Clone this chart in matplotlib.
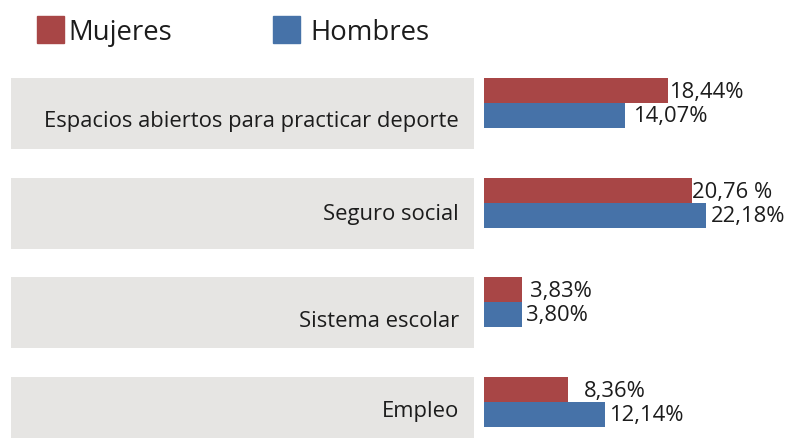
import matplotlib.pyplot as plt
from matplotlib.patches import Rectangle

categorias = ['Espacios abiertos para practicar deporte', 'Seguro social',
              'Sistema escolar', 'Empleo']
mujeres = [18.44, 20.76, 3.83, 8.36]
hombres = [14.07, 22.18, 3.80, 12.14]
etiq_mujeres = ['18,44%', '20,76 %', '3,83%', '8,36%']
etiq_hombres = ['14,07%', '22,18%', '3,80%', '12,14%']

ROJO = '#a84646'
AZUL = '#4672a8'
GRIS = '#e6e5e3'
TXT = '#1c1c1c'

plt.rcParams['font.family'] = ['Open Sans', 'DejaVu Sans']

W, H = 790, 438
fig = plt.figure(figsize=(W / 100, H / 100), dpi=100)

# y in "category" units: group i is centred at pixel 103 + 99.7*i from the top
paso = 99.7
ylim = ((H - 103) / paso, -103 / paso)

# left panel: grey boxes + category labels
axl = fig.add_axes([11 / W, 0, (474 - 11) / W, 1])
axl.set_xlim(0, 1)
axl.set_ylim(*ylim)
axl.axis('off')
lab_dy = [0.185, 0.115, 0.19, 0.09]
for i, cat in enumerate(categorias):
    axl.barh(i + 0.105, 1, height=0.71, left=0, color=GRIS, clip_on=True)
    axl.text(0.968, i + lab_dy[i], cat, ha='right', va='center', fontsize=15.8, color=TXT)

# right panel: bars
escala = 10.0  # px per percent
axr = fig.add_axes([484 / W, 0, (W - 484) / W, 1])
axr.set_xlim(0, (W - 484) / escala)
axr.set_ylim(*ylim)
axr.axis('off')
pos = list(range(len(categorias)))
h = 0.25
axr.barh([p - h / 2 for p in pos], mujeres, height=h, color=ROJO)
axr.barh([p + h / 2 for p in pos], hombres, height=h, color=AZUL)

pad_m = [1, 0, 8, 16]
pad_h = [8, 5, 4, 4]
for i in pos:
    axr.annotate(etiq_mujeres[i], (mujeres[i], i - h / 2), xytext=(pad_m[i], -2),
                 textcoords='offset pixels', ha='left', va='center',
                 fontsize=15.8, color=TXT)
    axr.annotate(etiq_hombres[i], (hombres[i], i + h / 2), xytext=(pad_h[i], -1),
                 textcoords='offset pixels', ha='left', va='center',
                 fontsize=15.8, color=TXT)

# legend
for x0, gap, col, lab in [(37, 31, ROJO, 'Mujeres'), (273, 37, AZUL, 'Hombres')]:
    fig.patches.append(Rectangle((x0 / W, 1 - 43 / H), 27 / W, 27 / H,
                                 transform=fig.transFigure, color=col))
    fig.text((x0 + gap) / W, 1 - 33 / H, lab, ha='left', va='center',
             fontsize=19.8, color=TXT)

fig.savefig('out.png', dpi=100)
